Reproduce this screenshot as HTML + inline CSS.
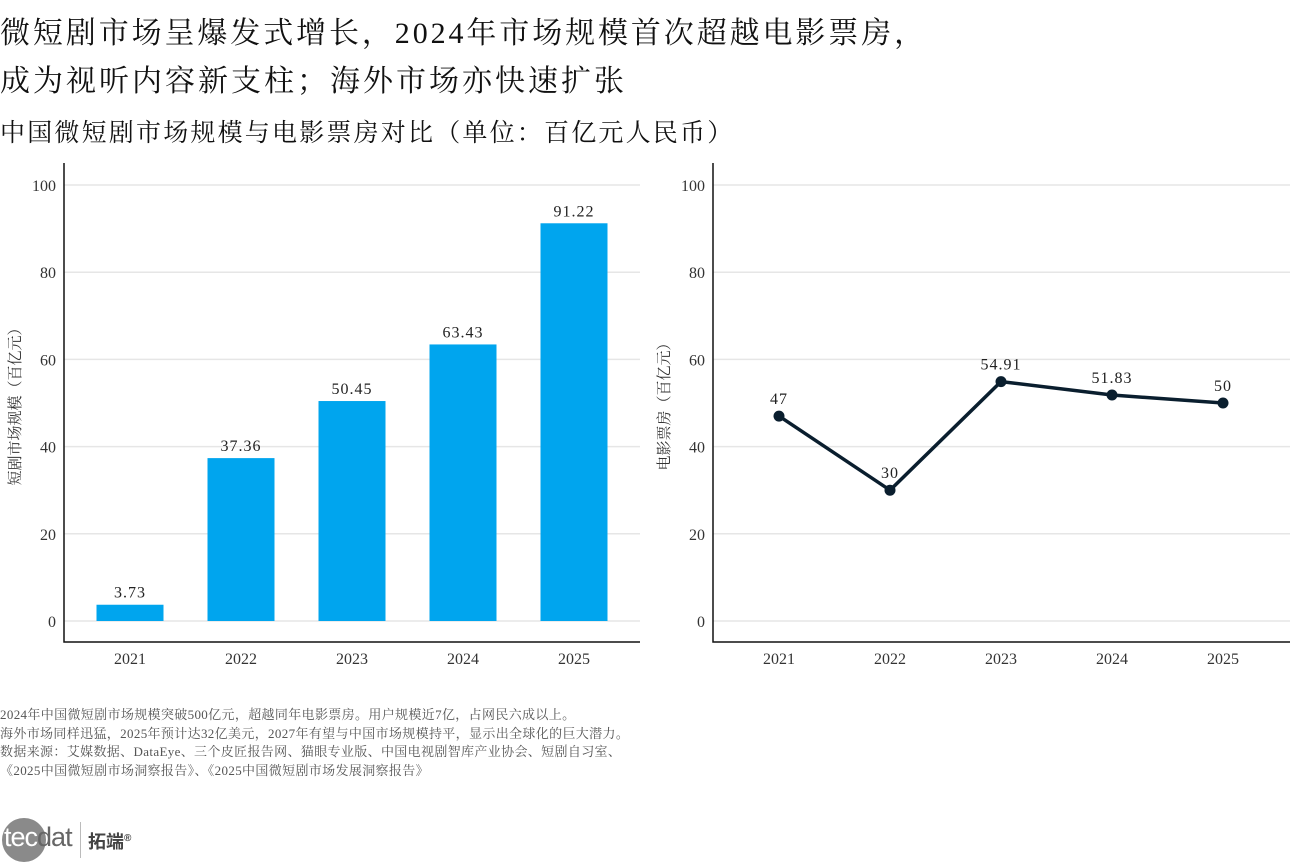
<!DOCTYPE html>
<html><head><meta charset="utf-8"><style>
body{margin:0;width:1299px;height:866px;background:#fff;overflow:hidden;font-family:"Liberation Serif","Noto Serif CJK SC",serif;color:#111;position:relative}
.t{position:absolute;white-space:nowrap}
</style></head><body>
<div class="t" style="left:0;top:8px;font-size:30px;letter-spacing:2.9px">微短剧市场呈爆发式增长，2024年市场规模首次超越电影票房，</div>
<div class="t" style="left:0;top:56px;font-size:30px;letter-spacing:3px">成为视听内容新支柱；海外市场亦快速扩张</div>
<div class="t" style="left:0;top:113px;font-size:25px;letter-spacing:2.2px">中国微短剧市场规模与电影票房对比（单位：百亿元人民币）</div>
<svg id="c" width="1299" height="700" style="position:absolute;left:0;top:0"></svg>
<div class="t" style="left:0;top:706px;font-size:13px;letter-spacing:0.35px;line-height:18.5px;color:#555">2024年中国微短剧市场规模突破500亿元，超越同年电影票房。用户规模近7亿，占网民六成以上。<br>海外市场同样迅猛，2025年预计达32亿美元，2027年有望与中国市场规模持平，显示出全球化的巨大潜力。<br>数据来源：艾媒数据、DataEye、三个皮匠报告网、猫眼专业版、中国电视剧智库产业协会、短剧自习室、<br>《2025中国微短剧市场洞察报告》、《2025中国微短剧市场发展洞察报告》</div>
<div style="position:absolute;left:2px;top:818px;width:44px;height:44px;border-radius:50%;background:#8a8a8a"></div>
<div class="t" style="left:4px;top:822px;font-family:'Liberation Sans',sans-serif;font-size:27px;color:#fff;letter-spacing:-1px">tec<span style="color:#666">dat</span></div>
<div style="position:absolute;left:80px;top:822px;width:1px;height:36px;background:#bbb"></div>
<div class="t" style="left:88px;top:828px;font-family:'Liberation Sans','Noto Sans CJK SC',sans-serif;font-size:18px;font-weight:bold;color:#444">拓端<sup style="font-size:10px">®</sup></div>
<script>
const categories=["2021","2022","2023","2024","2025"];
const marketSize=[3.73,37.36,50.45,63.43,91.22];
const boxOffice=[47,30,54.91,51.83,50];
const marketLabels=["3.73","37.36","50.45","63.43","91.22"];
const boxLabels=["47","30","54.91","51.83","50"];
const yTicks=[0,20,40,60,80,100];
const svg=document.getElementById('c');
const NS='http://www.w3.org/2000/svg';
function el(tag,attrs,txt){const e=document.createElementNS(NS,tag);for(const k in attrs)e.setAttribute(k,attrs[k]);if(txt!==undefined)e.textContent=txt;svg.appendChild(e);return e;}
const y=v=>621-v*4.36;
function axes(x0,x1,title,prefix){
  const cx=i=>x0+66+i*111;
  yTicks.forEach(t=>{
    const g=el('line',{x1:x0,x2:x1,y1:y(t),y2:y(t),stroke:'#e6e6e6','stroke-width':1.5});
    
    const l=el('text',{x:x0-8,y:y(t)+6,'text-anchor':'end','font-size':16,fill:'#333'},t);
    
  });
  const a=el('path',{d:`M${x0} 163V642H${x1}`,fill:'none',stroke:'#111','stroke-width':1.5});
  
  categories.forEach((c,i)=>{
    const l=el('text',{x:cx(i),y:664,'text-anchor':'middle','font-size':16,fill:'#333'},c);
    
  });
  const tt=el('text',{x:0,y:0,transform:`translate(${x0-44},${y(50)}) rotate(-90)`,'text-anchor':'middle','font-size':15,fill:'#333'},title);
  
  return cx;
}
const cx1=axes(64,640,'短剧市场规模（百亿元）','market');
marketSize.forEach((v,i)=>{
  const b=el('rect',{x:cx1(i)-33.5,y:y(v),width:67,height:y(0)-y(v),fill:'#00a5ee'});
  
  const l=el('text',{x:cx1(i),y:y(v)-7,'text-anchor':'middle','font-size':16,fill:'#222','letter-spacing':1},marketLabels[i]);
  
});
const cx2=axes(713,1290,'电影票房（百亿元）','boxoffice');
const ln=el('polyline',{points:boxOffice.map((v,i)=>cx2(i)+','+y(v)).join(' '),fill:'none',stroke:'#0a1e2e','stroke-width':3.5});

boxOffice.forEach((v,i)=>{
  const p=el('circle',{cx:cx2(i),cy:y(v),r:5.5,fill:'#0a1e2e'});
  
  const l=el('text',{x:cx2(i),y:y(v)-12,'text-anchor':'middle','font-size':16,fill:'#222','letter-spacing':1},boxLabels[i]);
  
});
</script>
</body></html>
